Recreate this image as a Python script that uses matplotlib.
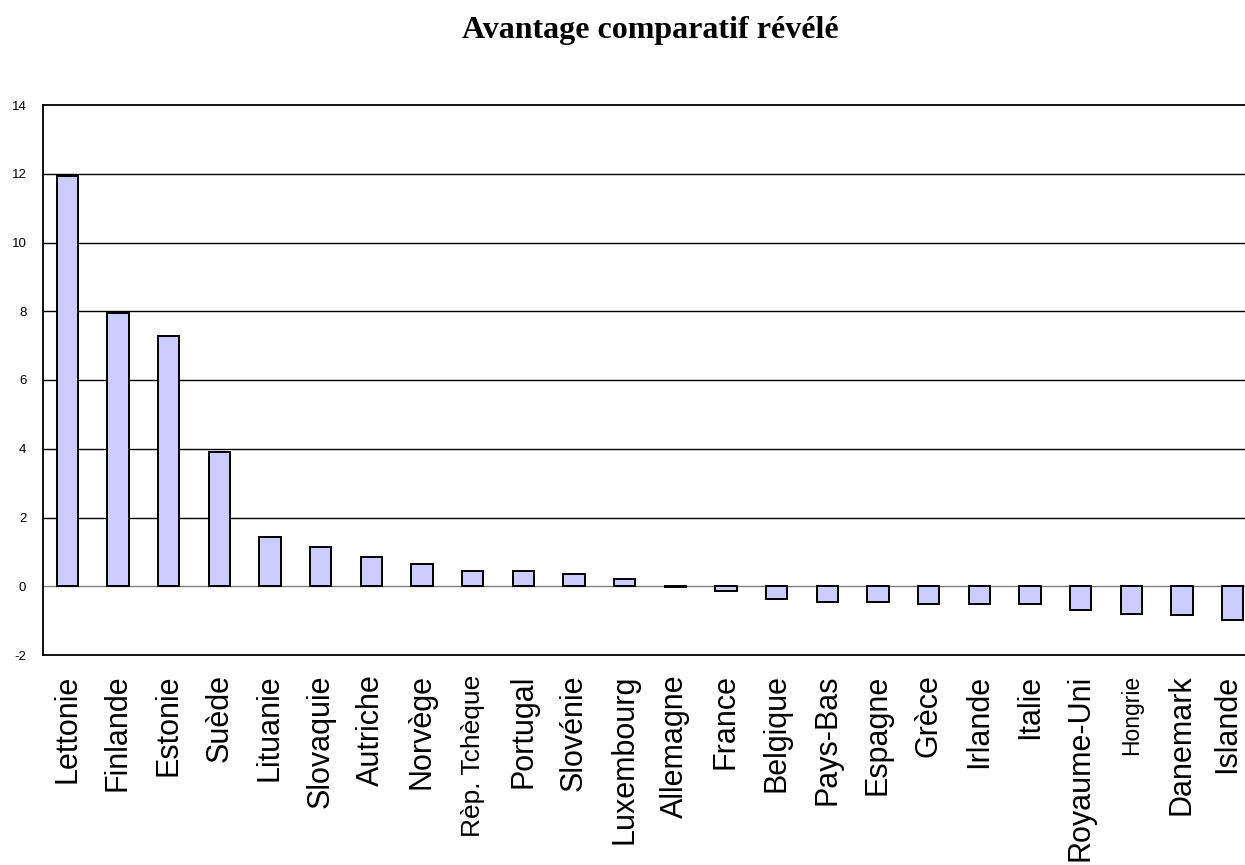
import numpy as np
import matplotlib.pyplot as plt
import matplotlib.transforms as mtransforms

# Pays, classés par avantage comparatif décroissant
pays = ['Lettonie', 'Finlande', 'Estonie', 'Suède', 'Lituanie', 'Slovaquie',
        'Autriche', 'Norvège', 'Rèp. Tchèque', 'Portugal', 'Slovénie',
        'Luxembourg', 'Allemagne', 'France', 'Belgique', 'Pays-Bas', 'Espagne',
        'Grèce', 'Irlande', 'Italie', 'Royaume-Uni', 'Hongrie', 'Danemark',
        'Islande']
valeurs = [11.94, 7.95, 7.27, 3.92, 1.44, 1.13, 0.85, 0.65, 0.43, 0.43, 0.35,
           0.20, -0.03, -0.15, -0.36, -0.45, -0.45, -0.51, -0.53, -0.53,
           -0.68, -0.80, -0.84, -0.97]
# quelques étiquettes sont écrites plus petit
tailles = {'Rèp. Tchèque': 19, 'Hongrie': 16.5}

yticks = np.arange(-2, 15, 2)

fig = plt.figure(figsize=(12.45, 8.65), dpi=100)
ax = fig.add_axes([43 / 1245, 1 - 655 / 865, 1215 / 1245, 550 / 865])

x = np.arange(len(pays))
ax.bar(x, valeurs, width=0.42, color='#CCCCFF', edgecolor='black',
       linewidth=1.4, zorder=3)

ax.set_xlim(-0.48, len(pays) - 0.5)
ax.set_ylim(-2, 14)
ax.set_yticks(yticks)
ax.set_yticklabels([str(v) for v in yticks], fontsize=9.5,
                   family='Liberation Sans')
for v in yticks[1:-1]:
    ax.axhline(v, color='grey' if v == 0 else 'black', linewidth=1, zorder=1)

ax.set_xticks(x)
ax.set_xticklabels(pays, rotation=90, family='Liberation Sans', va='top')
for lab in ax.get_xticklabels():
    lab.set_fontsize(tailles.get(lab.get_text(), 22))

ax.tick_params(axis='x', length=0, pad=14)
ax.tick_params(axis='y', length=0, pad=12)

# la dernière étiquette touche le bord droit : on la décale un peu
dernier = ax.get_xticklabels()[-1]
decal = mtransforms.ScaledTranslation(-6 / 100, 0, fig.dpi_scale_trans)
dernier.set_transform(dernier.get_transform() + decal)

for s in ['top', 'left', 'bottom']:
    ax.spines[s].set_linewidth(1.3)
ax.spines['right'].set_visible(False)

fig.text(0.522, 0.965, 'Avantage comparatif révélé', ha='center', va='center',
         fontsize=23, fontweight='bold', family='Liberation Serif')

fig.savefig('out.png', dpi=100)
